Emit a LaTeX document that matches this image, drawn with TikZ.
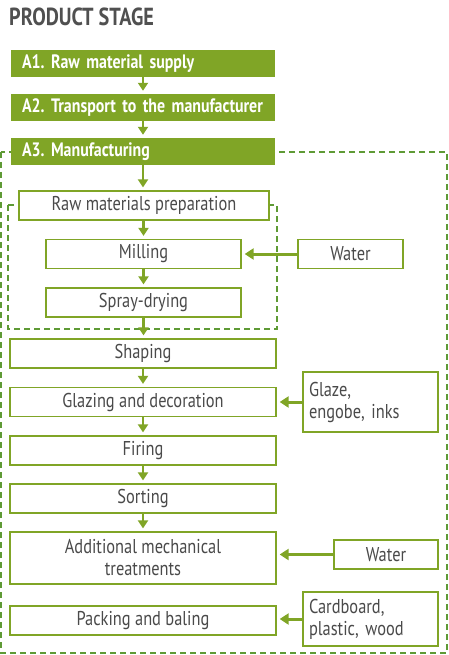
\documentclass[tikz,border=0pt]{standalone}
\usepackage{fontspec}
\setmainfont{PT Sans}[FakeStretch=0.82]
\usepackage{tikz}
\usetikzlibrary{arrows.meta,positioning}
\frenchspacing
\definecolor{leaf}{HTML}{80A526}
\definecolor{framegreen}{HTML}{5E9A35}
\definecolor{ink}{HTML}{4A4A4A}
\definecolor{titlegray}{HTML}{505050}
\tikzstyle{stage} = [fill=leaf, rectangle, minimum width=264pt,
    minimum height=27pt, text width=242pt, align=left, inner sep=0pt,
    text=white, font=\bfseries\fontsize{19.4}{21}\selectfont]
\tikzstyle{process} = [draw=leaf, fill=white, rectangle, line width=1.3pt,
    minimum width=266pt, minimum height=29pt, inner sep=0pt,
    text=ink, font=\fontsize{20}{22}\selectfont]
\tikzstyle{flow} = [draw=leaf, line width=2.4pt,
    -{Triangle[length=8pt,width=10pt]}, shorten >=3pt]
\tikzstyle{feed} = [draw=leaf, line width=3pt,
    -{Triangle[length=9pt,width=11pt]}, shorten >=3pt]
\tikzstyle{frame} = [draw=framegreen, line width=2.2pt,
    dash pattern=on 6pt off 4pt]

\begin{document}
\begin{tikzpicture}[x=1pt, y=1pt, node distance=48.5pt]
    \useasboundingbox (0,0) rectangle (448,-655);
    % % % % % % % % % % % % % % % % % % % % % % %
    % Dashed frames (behind the boxes)
    % % % % % % % % % % % % % % % % % % % % % % %
    \draw [frame] (1,-152) rectangle (447,-653);
    \draw [frame] (8,-205) rectangle (277,-329);

    % Title
    \node [anchor=west, inner sep=0pt, text=titlegray,
        font=\bfseries\fontsize{24.7}{26}\selectfont] (title) at (9,-17) {PRODUCT STAGE};

    % Stages A1 - A3
    \node [stage] (a1) at (143,-63.5) {A1. Raw material supply};
    \node [stage, below of=a1, node distance=44pt] (a2) {A2. Transport to the manufacturer};
    \node [stage, below of=a2, node distance=44pt] (a3) {A3. Manufacturing};

    % Body preparation
    \node [process, minimum width=250pt, below of=a3, node distance=54pt,
        xshift=1pt] (prep) {Raw materials preparation};
    \node [process, minimum width=195pt, below of=prep, xshift=-0.5pt] (milling) {Milling};
    \node [process, minimum width=195pt, below of=milling] (spray) {Spray-drying};

    % Main line
    \node [process, below of=spray, node distance=51pt, xshift=-0.5pt] (shaping) {Shaping};
    \node [process, below of=shaping] (glazing) {Glazing and decoration};
    \node [process, below of=glazing] (firing) {Firing};
    \node [process, below of=firing, node distance=48pt] (sorting) {Sorting};
    \node [process, minimum height=52pt, align=center, below of=sorting,
        node distance=59.5pt] (mech) {Additional mechanical\\treatments};
    \node [process, below of=mech, node distance=62.5pt] (packing) {Packing and baling};

    % Inputs on the right
    \node [process, minimum width=105pt, right of=milling, node distance=207pt] (water) {Water};
    \node [process, minimum width=135pt, minimum height=60pt, text width=123pt,
        align=left, right of=glazing, node distance=227.5pt] (glaze) {Glaze,\\engobe, inks};
    \node [process, minimum width=104pt, right of=mech, node distance=243pt,
        yshift=3.5pt] (water2) {Water};
    \node [process, minimum width=135pt, minimum height=54pt, text width=123pt,
        align=left, right of=packing, node distance=227.5pt, yshift=1.5pt] (board) {Cardboard,\\plastic, wood};

    % Flow down the stage
    \draw [flow] (a1) -- (a2);
    \draw [flow] (a2) -- (a3);
    \draw [flow] (a3.south) -- (a3.south |- prep.north);
    \draw [flow] (prep.south -| milling) -- (milling);
    \draw [flow] (milling) -- (spray);
    \draw [flow] (spray) -- (spray.south |- shaping.north);
    \draw [flow] (shaping) -- (glazing);
    \draw [flow] (glazing) -- (firing);
    \draw [flow] (firing) -- (sorting);
    \draw [flow] (sorting) -- (mech);

    % Inputs
    \draw [feed] (water) -- (milling);
    \draw [feed] (glaze) -- (glazing);
    \draw [feed] (water2.west) -- (water2.west -| mech.east);
    \draw [feed] (board.west) -- (board.west -| packing.east);
\end{tikzpicture}
\end{document}
